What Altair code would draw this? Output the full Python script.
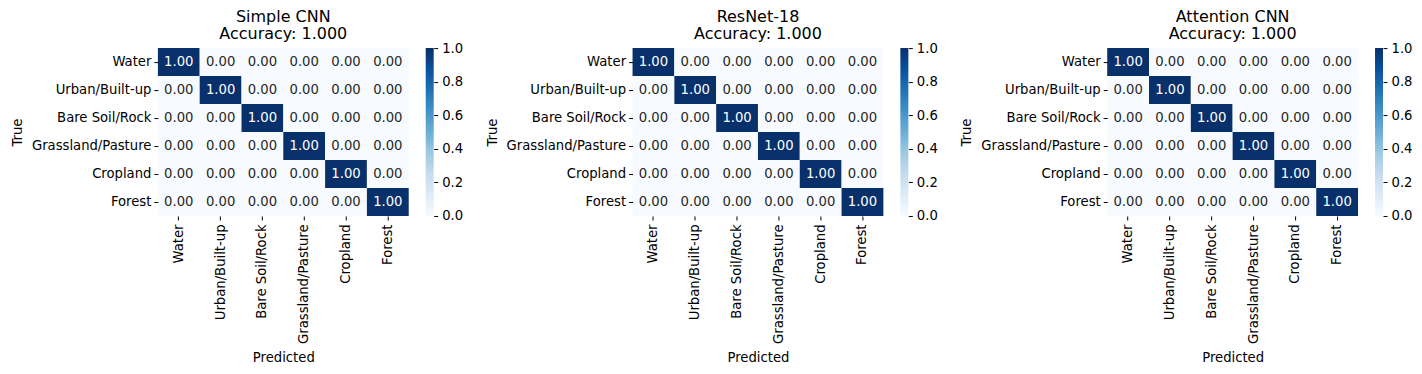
import altair as alt
import pandas as pd

classes = ["Water", "Urban/Built-up", "Bare Soil/Rock", "Grassland/Pasture", "Cropland", "Forest"]
models = ["Simple CNN", "ResNet-18", "Attention CNN"]
accuracies = [1.000, 1.000, 1.000]

cm_simple_cnn = [
    [1.00, 0.00, 0.00, 0.00, 0.00, 0.00],
    [0.00, 1.00, 0.00, 0.00, 0.00, 0.00],
    [0.00, 0.00, 1.00, 0.00, 0.00, 0.00],
    [0.00, 0.00, 0.00, 1.00, 0.00, 0.00],
    [0.00, 0.00, 0.00, 0.00, 1.00, 0.00],
    [0.00, 0.00, 0.00, 0.00, 0.00, 1.00],
]
cm_resnet18 = [
    [1.00, 0.00, 0.00, 0.00, 0.00, 0.00],
    [0.00, 1.00, 0.00, 0.00, 0.00, 0.00],
    [0.00, 0.00, 1.00, 0.00, 0.00, 0.00],
    [0.00, 0.00, 0.00, 1.00, 0.00, 0.00],
    [0.00, 0.00, 0.00, 0.00, 1.00, 0.00],
    [0.00, 0.00, 0.00, 0.00, 0.00, 1.00],
]
cm_attention_cnn = [
    [1.00, 0.00, 0.00, 0.00, 0.00, 0.00],
    [0.00, 1.00, 0.00, 0.00, 0.00, 0.00],
    [0.00, 0.00, 1.00, 0.00, 0.00, 0.00],
    [0.00, 0.00, 0.00, 1.00, 0.00, 0.00],
    [0.00, 0.00, 0.00, 0.00, 1.00, 0.00],
    [0.00, 0.00, 0.00, 0.00, 0.00, 1.00],
]
matrices = [cm_simple_cnn, cm_resnet18, cm_attention_cnn]

colorbar_ticks = [0.0, 0.2, 0.4, 0.6, 0.8, 1.0]
colorbar_extent = [0.0, 1.0]

# matplotlib "Blues" colormap stops
blues_domain = [0, 0.125, 0.25, 0.375, 0.5, 0.625, 0.75, 0.875, 1.0]
blues_range = ["#f7fbff", "#deebf7", "#c6dbef", "#9ecae1", "#6baed6",
               "#4292c6", "#2171b5", "#08519c", "#08306b"]

FONT = "DejaVu Sans"
LBL = 13.2


def heatmap(name, acc, cm):
    rows = []
    for i, t in enumerate(classes):
        for j, p in enumerate(classes):
            v = cm[i][j]
            rows.append({"true": t, "pred": p, "value": v, "label": f"{v:.2f}"})
    df = pd.DataFrame(rows)
    base = alt.Chart(df)
    x = alt.X("pred:N", sort=classes, title="Predicted",
              axis=alt.Axis(labelAngle=270, domain=False, tickSize=4, tickColor="black",
                            labelFontSize=LBL, labelColor="black", labelPadding=4,
                            titleFontSize=LBL, titleFontWeight="normal", titleColor="black",
                            titlePadding=8))
    y = alt.Y("true:N", sort=classes, title="True",
              axis=alt.Axis(labelAngle=0, domain=False, tickSize=4, tickColor="black",
                            labelFontSize=LBL, labelColor="black", labelPadding=3,
                            titleFontSize=LBL, titleFontWeight="normal", titleColor="black",
                            titlePadding=7))
    rect = base.mark_rect().encode(
        x=x, y=y,
        color=alt.Color("value:Q",
                        scale=alt.Scale(domain=blues_domain, range=blues_range),
                        legend=None),
    )
    text = base.mark_text(fontSize=LBL, font=FONT).encode(
        x=alt.X("pred:N", sort=classes),
        y=alt.Y("true:N", sort=classes),
        text="label:N",
        color=alt.when(alt.datum.value > 0.5).then(alt.value("white")).otherwise(alt.value("#262626")),
    )
    return alt.layer(rect, text).properties(
        width=251, height=168,
        title=alt.Title([name, f"Accuracy: {acc:.3f}"], fontSize=16, fontWeight="normal",
                        color="black", frame="group", anchor="middle", offset=6, lineHeight=17),
    )


def colorbar():
    df = pd.DataFrame({"lo": [colorbar_extent[0]], "hi": [colorbar_extent[1]]})
    grad = alt.Gradient(
        gradient="linear",
        stops=[alt.GradientStop(color=c, offset=o) for c, o in zip(blues_range, blues_domain)],
        x1=0, x2=0, y1=1, y2=0,
    )
    return alt.Chart(df).mark_rect(color=grad).encode(
        y=alt.Y("lo:Q", scale=alt.Scale(domain=colorbar_extent, nice=False, zero=False),
                axis=alt.Axis(orient="right", values=colorbar_ticks, format=".1f",
                              domain=False, grid=False, title=None, tickSize=4,
                              tickColor="black", labelFontSize=LBL, labelColor="black",
                              labelPadding=4, labelFlush=False)),
        y2="hi:Q",
    ).properties(width=8, height=168)


panels = [
    alt.hconcat(heatmap(n, a, m), colorbar(), spacing=16)
    for n, a, m in zip(models, accuracies, matrices)
]
chart = alt.hconcat(*panels, spacing=22).resolve_scale(color="independent").properties(
    padding={"left": 2, "top": 1, "right": 2, "bottom": 2}
).configure(font=FONT).configure_view(stroke=None)

chart.save("out.html", embed_options={"renderer": "svg", "actions": False})
